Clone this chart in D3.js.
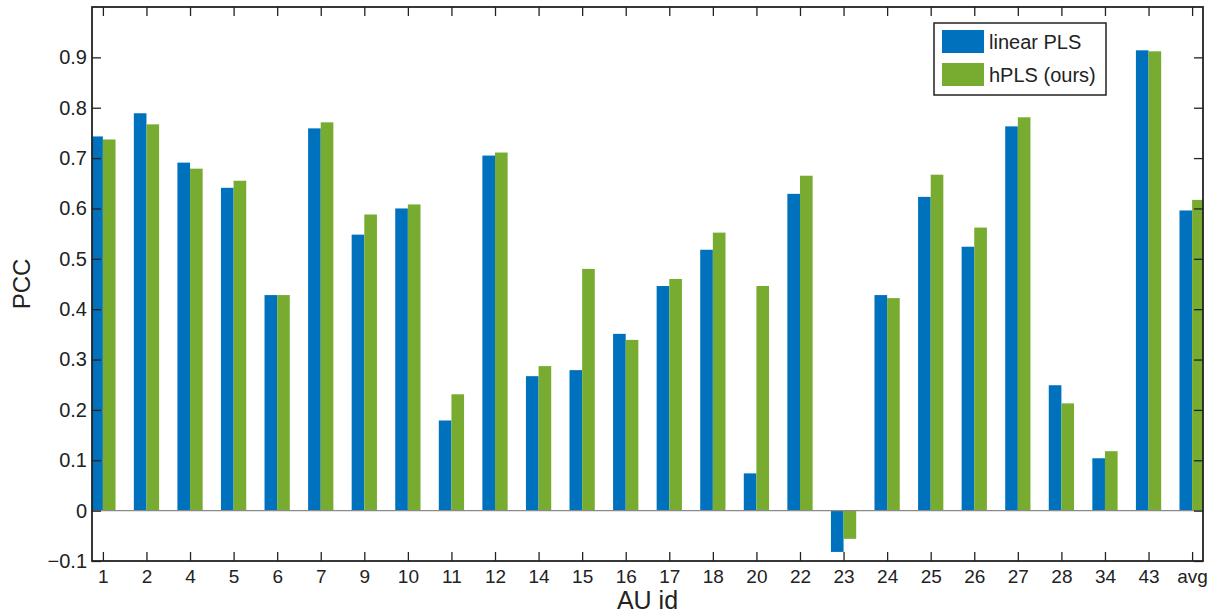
<!DOCTYPE html>
<html lang="en">
<head>
<meta charset="UTF-8">
<script src="https://cdn.jsdelivr.net/npm/d3@7"></script>
<style>
    * { margin: 0; padding: 0; }
    body { background: #fff; }
    text { font-family: "Liberation Sans", Arial, sans-serif; fill: #222; }
</style>
</head>
<body>
<script>
    // AU ids and PCC values for each method
    const categories = ["1","2","4","5","6","7","9","10","11","12","14","15","16","17","18","20","22","23","24","25","26","27","28","34","43","avg"];
    const linearPLS = [0.743,0.789,0.691,0.641,0.428,0.759,0.548,0.600,0.179,0.705,0.267,0.279,0.351,0.446,0.518,0.074,0.629,-0.082,0.428,0.623,0.524,0.763,0.249,0.104,0.914,0.596];
    const hPLS      = [0.737,0.767,0.679,0.655,0.428,0.771,0.588,0.608,0.231,0.711,0.287,0.480,0.339,0.460,0.552,0.446,0.665,-0.056,0.422,0.667,0.562,0.781,0.213,0.118,0.912,0.617];
    const yTicks = [-0.1,0,0.1,0.2,0.3,0.4,0.5,0.6,0.7,0.8,0.9];
    const seriesNames = ["linear PLS", "hPLS (ours)"];
    const colors = ["#0072BD", "#77AC30"];

    const width = 1211, height = 613;
    const margin = { left: 92, top: 7, right: 8, bottom: 52 };
    const barW = 0.29;

    const svg = d3.select("body").append("svg")
        .attr("width", width)
        .attr("height", height);

    const x = d3.scaleLinear()
        .domain([0.75, categories.length + 0.25])
        .range([margin.left, width - margin.right]);
    const y = d3.scaleLinear()
        .domain([-0.1, 1.0])
        .range([height - margin.bottom, margin.top]);

    svg.append("clipPath").attr("id", "plot")
        .append("rect")
        .attr("x", margin.left).attr("y", margin.top)
        .attr("width", width - margin.left - margin.right)
        .attr("height", height - margin.top - margin.bottom);

    // bars
    const bars = svg.append("g").attr("clip-path", "url(#plot)");
    [linearPLS, hPLS].forEach((vals, s) => {
        bars.selectAll("rect.s" + s)
            .data(vals)
            .enter().append("rect")
            .attr("class", "s" + s)
            .attr("x", (d, i) => x(i + 1 + (s === 0 ? -barW : 0)))
            .attr("width", x(barW) - x(0))
            .attr("y", d => y(Math.max(0, d)))
            .attr("height", d => Math.abs(y(d) - y(0)))
            .attr("fill", colors[s]);
    });

    // zero baseline
    svg.append("line")
        .attr("x1", margin.left).attr("x2", width - margin.right)
        .attr("y1", y(0)).attr("y2", y(0))
        .attr("stroke", "#8a8a8a").attr("stroke-width", 1.2);

    const idx = categories.map((c, i) => i + 1);

    // axes (ticks point inward like matlab)
    const xAxis = svg.append("g")
        .attr("transform", `translate(0,${height - margin.bottom})`)
        .call(d3.axisBottom(x).tickValues(idx).tickFormat(i => categories[i - 1]).tickSizeInner(-9).tickSizeOuter(0).tickPadding(9));
    const xTop = svg.append("g")
        .attr("transform", `translate(0,${margin.top})`)
        .call(d3.axisTop(x).tickValues(idx).tickFormat("").tickSizeInner(-9).tickSizeOuter(0));
    const yAxis = svg.append("g")
        .attr("transform", `translate(${margin.left},0)`)
        .call(d3.axisLeft(y).tickValues(yTicks).tickFormat(d => d === 0 ? "0" : d3.format(".1f")(d).replace("-", "\u2212")).tickSizeInner(-9).tickSizeOuter(0).tickPadding(5));
    const yRight = svg.append("g")
        .attr("transform", `translate(${width - margin.right},0)`)
        .call(d3.axisRight(y).tickValues(yTicks).tickFormat("").tickSizeInner(-9).tickSizeOuter(0));

    [xAxis, xTop, yAxis, yRight].forEach(g => {
        g.select(".domain").remove();
        g.selectAll(".tick line").attr("stroke", "#222").attr("stroke-width", 1.3);
        g.selectAll("text").attr("font-size", 19).attr("fill", "#222")
            .style("font-family", "'Liberation Sans', Arial, sans-serif");
    });
    yAxis.selectAll("text").attr("font-size", 20);

    // box
    svg.append("rect")
        .attr("x", margin.left).attr("y", margin.top)
        .attr("width", width - margin.left - margin.right)
        .attr("height", height - margin.top - margin.bottom)
        .attr("fill", "none").attr("stroke", "#222").attr("stroke-width", 1.8);

    // axis titles
    svg.append("text")
        .attr("transform", `translate(30,${(margin.top + height - margin.bottom) / 2}) rotate(-90)`)
        .attr("text-anchor", "middle")
        .attr("font-size", 24)
        .text("PCC");
    svg.append("text")
        .attr("x", (margin.left + width - margin.right) / 2)
        .attr("y", 609)
        .attr("text-anchor", "middle")
        .attr("font-size", 25)
        .text("AU id");

    // legend
    const legend = svg.append("g").attr("transform", "translate(934,23)");
    legend.append("rect")
        .attr("width", 172).attr("height", 72)
        .attr("fill", "#fff").attr("stroke", "#222").attr("stroke-width", 1.5);
    seriesNames.forEach((name, i) => {
        legend.append("rect")
            .attr("x", 8).attr("y", 7 + i * 33)
            .attr("width", 42).attr("height", 23)
            .attr("fill", colors[i]);
        legend.append("text")
            .attr("x", 55).attr("y", 26 + i * 33)
            .attr("font-size", 20)
            .text(name);
    });
</script>
</body>
</html>
